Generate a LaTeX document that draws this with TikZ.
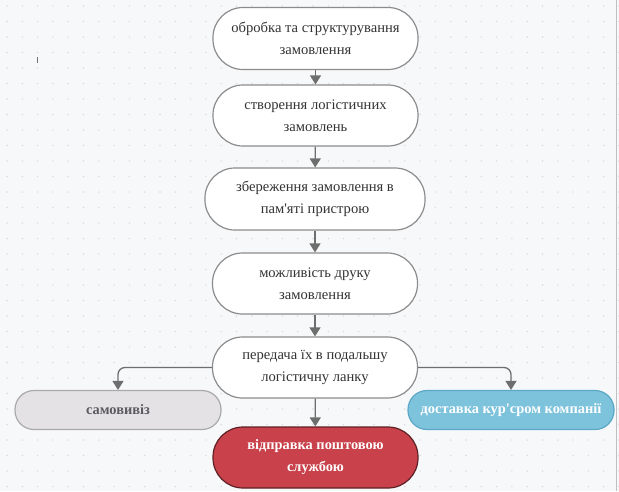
\documentclass[tikz,border=0pt]{standalone}
\usepackage{fontspec}
\setmainfont{Liberation Serif}
\usetikzlibrary{arrows.meta}
\definecolor{bgc}{HTML}{F7F8FA}
\definecolor{dotc}{HTML}{D8DADE}
\definecolor{edgec}{HTML}{6E6E6E}
\definecolor{bordc}{HTML}{8C8C8C}
\definecolor{txtc}{HTML}{333333}
\definecolor{grayfill}{HTML}{E5E2E6}
\definecolor{graybord}{HTML}{A9A9AB}
\definecolor{grytxt}{HTML}{5C5A5E}
\definecolor{bluefill}{HTML}{7EC3DC}
\definecolor{bluebord}{HTML}{5AA7C6}
\definecolor{redfill}{HTML}{C8414B}
\definecolor{redbord}{HTML}{5E2226}
\begin{document}
\begin{tikzpicture}[x=1pt,y=-1pt,
  proc/.style={draw=bordc, line width=1.2pt, fill=white, rounded corners=30pt,
    minimum width=205pt, minimum height=62pt, inner sep=0pt, align=center,
    text=txtc, font=\fontsize{14.6}{22}\selectfont},
  flat/.style={line width=1.2pt, rounded corners=19pt, minimum width=206pt,
    minimum height=39pt, inner sep=0pt, align=center,
    font=\bfseries\fontsize{14.4}{22}\selectfont},
  arr/.style={draw=edgec, line width=1.3pt, -{Triangle[width=11pt,length=9pt]}}
]
\useasboundingbox (0,0) rectangle (619,491);
\fill[bgc] (0,0) rectangle (619,491);
\foreach \i in {0,...,40} {
  \foreach \j in {0,...,31} {
    \fill[dotc] ({7+15.3*\i},{6+15.5*\j}) circle (0.8pt);
  }
}
\draw[draw=black!25, line width=1pt] (616.5,0) -- (616.5,491);
\coordinate (cur1) at (37,57);
\coordinate (cur2) at (37,63);
\draw[black!55, line width=1pt] (cur1) -- (cur2);

\node[proc] (n1) at (315.5,38.5) {обробка та структурування\\замовлення};
\node[proc, minimum height=61pt] (n2) at (315.5,115.5) {створення логістичних\\замовлень};
\node[proc, minimum width=220pt] (n3) at (315,199) {збереження замовлення в\\пам\textquotesingle яті пристрою};
\node[proc, minimum height=61pt] (n4) at (315,283.5) {можливість друку\\замовлення};
\node[proc, minimum height=61pt] (n5) at (315,367.5) {передача їх в подальшу\\логістичну ланку};
\node[flat, draw=graybord, fill=grayfill, text=grytxt] (left) at (118,410) {самовивіз};
\node[flat, draw=bluebord, fill=bluefill, text=white] (right) at (511,410) {доставка кур\textquotesingle сром компанії};
\node[proc, draw=redbord, fill=redfill, text=white, font=\bfseries\fontsize{14.4}{22}\selectfont, minimum height=61pt] (red) at (315.5,457.5) {відправка поштовою\\службою};

\draw[arr] (n1) -- (n2);
\draw[arr] (n2) -- (n3);
\draw[arr] (n3) -- (n4);
\draw[arr] (n4) -- (n5);
\draw[arr] (n5) -- (red);
\draw[arr, rounded corners=7pt] (n5.west) -| (left.north);
\draw[arr, rounded corners=7pt] (n5.east) -| (right.north);
\end{tikzpicture}
\end{document}
